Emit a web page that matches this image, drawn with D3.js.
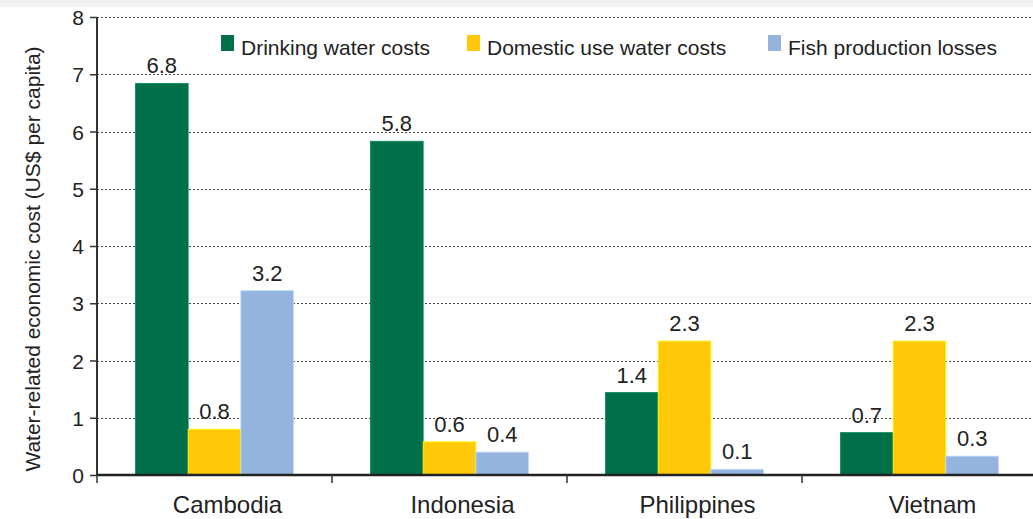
<!DOCTYPE html>
<html>
<head>
<meta charset="utf-8">
<script src="https://cdn.jsdelivr.net/npm/d3@7"></script>
<style>
  body { margin: 0; background: #fff; }
  text { font-family: "Liberation Sans", Arial, Helvetica, sans-serif; fill: #222; }
</style>
</head>
<body>
<div id="chart"></div>
<script>
// data
const countries = ["Cambodia", "Indonesia", "Philippines", "Vietnam"]
const seriesNames = ["Drinking water costs", "Domestic use water costs", "Fish production losses"]
const drinking = [6.84, 5.83, 1.44, 0.74]
const domestic = [0.8, 0.58, 2.34, 2.34]
const fish = [3.22, 0.4, 0.1, 0.33]
const yTicks = [0, 1, 2, 3, 4, 5, 6, 7, 8]
const colors = ["#00704a", "#ffc90a", "#95b4dd"]

const seriesValues = [drinking, domestic, fish]
const rows = countries.map((c, i) => ({
  country: c,
  values: seriesNames.map((s, k) => ({ key: s, value: seriesValues[k][i], k: k }))
}))

const W = 1033, H = 519
const plotLeft = 97, plotBottom = 475, plotTop = 17

const svg = d3.select("#chart").append("svg")
  .attr("width", W)
  .attr("height", H)

// light grey band at the very top
svg.append("rect").attr("x", 0).attr("y", 0).attr("width", W).attr("height", 7).attr("fill", "#f2f2f2")

const y = d3.scaleLinear().domain([0, 8]).range([plotBottom, plotTop])
const x0 = d3.scaleBand().domain(countries).range([plotLeft, plotLeft + 235 * 4]).padding(0)
const x1 = d3.scaleBand().domain(seriesNames).range([0, x0.bandwidth()]).paddingInner(0).paddingOuter(0.73)

// gridlines
svg.append("g")
  .selectAll("line")
  .data(yTicks.filter(d => d > 0))
  .enter()
  .append("line")
    .attr("x1", plotLeft)
    .attr("x2", W)
    .attr("y1", d => Math.round(y(d)) + 0.5)
    .attr("y2", d => Math.round(y(d)) + 0.5)
    .attr("stroke", "#444")
    .attr("stroke-width", 1)
    .attr("stroke-dasharray", "2,2")

// bars
const groups = svg.append("g")
  .selectAll("g")
  .data(rows)
  .enter()
  .append("g")
    .attr("transform", d => "translate(" + x0(d.country) + ",0)")

groups.selectAll("rect")
  .data(d => d.values)
  .enter()
  .append("rect")
    .attr("x", d => x1(d.key))
    .attr("y", d => y(d.value))
    .attr("width", x1.bandwidth())
    .attr("height", d => y(0) - y(d.value))
    .attr("fill", d => colors[d.k])
    .attr("stroke", d => d3.color(colors[d.k]).brighter(0.6))
    .attr("stroke-width", 0.8)

groups.selectAll("text")
  .data(d => d.values)
  .enter()
  .append("text")
    .attr("x", d => x1(d.key) + x1.bandwidth() / 2)
    .attr("y", d => y(d.value) - 10)
    .attr("text-anchor", "middle")
    .style("font-size", "22px")
    .text(d => d3.format(".1f")(d.value))

// y axis
const yAxis = svg.append("g")
  .attr("transform", "translate(" + plotLeft + ",0)")
  .call(d3.axisLeft(y).tickValues(yTicks).tickSize(7).tickPadding(6).tickFormat(d3.format("d")))
yAxis.select(".domain").attr("stroke", "#333").attr("stroke-width", 2).attr("d", "M0," + plotTop + "V" + plotBottom)
yAxis.selectAll(".tick line").attr("stroke", "#333").attr("stroke-width", 1.5)
yAxis.selectAll(".tick text").style("font-size", "21px").attr("fill", "#222").attr("dy", "0.36em")

// x axis: baseline, boundary ticks and labels
svg.append("line")
  .attr("x1", plotLeft).attr("x2", W)
  .attr("y1", plotBottom).attr("y2", plotBottom)
  .attr("stroke", "#222").attr("stroke-width", 2.5)

svg.append("g")
  .selectAll("line")
  .data(countries)
  .enter()
  .append("line")
    .attr("x1", d => x0(d)).attr("x2", d => x0(d))
    .attr("y1", plotBottom).attr("y2", plotBottom + 8)
    .attr("stroke", "#333").attr("stroke-width", 1.5)

svg.append("g")
  .selectAll("text")
  .data(countries)
  .enter()
  .append("text")
    .attr("x", d => x0(d) + x0.bandwidth() / 2 + 13)
    .attr("y", 513)
    .attr("text-anchor", "middle")
    .style("font-size", "24px")
    .text(d => d)

// y title
svg.append("text")
  .attr("transform", "translate(40,259) rotate(-90)")
  .attr("text-anchor", "middle")
  .style("font-size", "21px")
  .text("Water-related economic cost (US$ per capita)")

// legend
const legendX = [221, 467, 768]
const legend = svg.append("g")
  .selectAll("g")
  .data(seriesNames)
  .enter()
  .append("g")
    .attr("transform", (d, i) => "translate(" + legendX[i] + ",35)")
legend.append("rect")
  .attr("width", 13).attr("height", 16)
  .attr("fill", (d, i) => colors[i])
legend.append("text")
  .attr("x", 20).attr("y", 20)
  .style("font-size", "21px")
  .text(d => d)
</script>
</body>
</html>
